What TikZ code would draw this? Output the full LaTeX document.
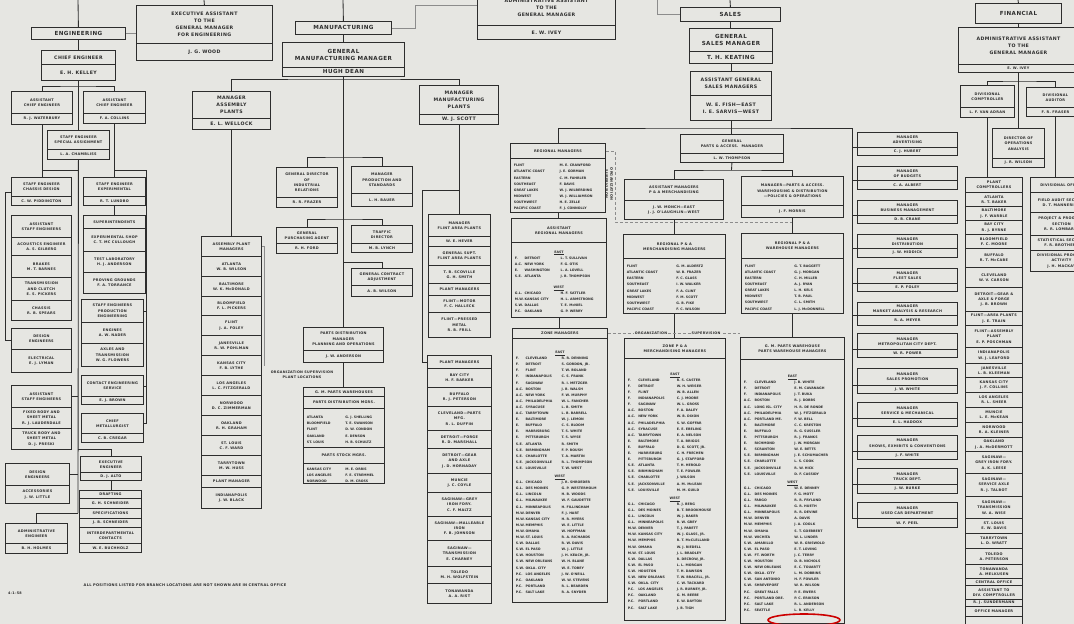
\documentclass[tikz,border=0pt]{standalone}
\usepackage{fontspec}
\newfontfamily\chart{DejaVu Sans}[LetterSpace=8]
\newfontfamily\chartl{DejaVu Sans}
\usetikzlibrary{calc}
\definecolor{paper}{RGB}{230,230,226}
\definecolor{ink}{RGB}{45,45,45}
\definecolor{faint}{RGB}{140,140,140}
\newcommand\fA{\fontsize{5.6}{7.8}\selectfont}
\newcommand\fB{\fontsize{4.7}{6.8}\selectfont}
\newcommand\fC{\fontsize{3.5}{5.3}\selectfont}
\newcommand\fD{\fontsize{3.25}{6.1}\selectfont}
\newcommand\rr[2]{\par\hbox to \hsize{\hbox to 0.52\hsize{#1\hfil}#2\hfil}}
\newcommand\rrr[3]{\par\hbox to \hsize{\hbox to 0.11\hsize{#1\hfil}\hbox to 0.41\hsize{#2\hfil}#3\hfil}}
\newcommand\hd[1]{\par\hbox to \hsize{\hfil\underline{#1}\hfil}}
\newcommand\bx[7][]{\node[cell,#1,minimum width=#5pt,minimum height=#6pt] (#2) at (#3,#4) {#7};}
\newcommand\lb[7]{\node[lst,minimum width=#4pt,minimum height=#5pt,text width=#6pt] (#1) at (#2,#3) {#7};}
\tikzset{
 cell/.style={draw=ink,line width=0.85pt,inner sep=0.4pt,align=center,anchor=north west,text=ink,font=\chart\bfseries\fC},
 lst/.style={draw=ink,line width=0.85pt,inner xsep=3pt,inner ysep=1pt,anchor=north west,text=ink,font=\chartl\bfseries\fD},
 fa/.style={font=\chart\bfseries\fA},
 fb/.style={font=\chart\bfseries\fB},
 conn/.style={draw=ink,line width=0.85pt},
 thinl/.style={draw=faint,line width=0.5pt},
 lab/.style={text=ink,font=\chart\bfseries\fontsize{3.4}{5}\selectfont,inner sep=0.5pt,align=center},
}
\begin{document}
\begin{tikzpicture}[x=1pt,y=-1pt]
\fill[paper] (0,0) rectangle (1074,624);
\useasboundingbox (0,0) rectangle (1074,624);
\clip (0,0) rectangle (1074,624);

% ================= ENGINEERING =================
\bx[fa]{eng}{31}{27}{94}{12}{ENGINEERING}
\bx[fb]{exA}{136}{5}{136}{38}{EXECUTIVE ASSISTANT\\TO THE\\GENERAL MANAGER\\FOR ENGINEERING}
\bx[fb]{exB}{136}{43}{136}{17}{J. G. WOOD}
\bx[fb]{ceA}{41}{50}{74}{14}{CHIEF ENGINEER}
\bx[fb]{ceB}{41}{64}{74}{16}{E. H. KELLEY}
\bx{acl1}{11}{91}{61}{22}{ASSISTANT\\CHIEF ENGINEER}
\bx{acl2}{11}{113}{61}{11}{R. J. WATERBURY}
\bx{acr1}{83}{91}{62}{22}{ASSISTANT\\CHIEF ENGINEER}
\bx{acr2}{83}{113}{62}{10}{F. A. COLLINS}
\bx{ssa1}{47}{130}{62}{19}{STAFF ENGINEER\\SPECIAL ASSIGNMENT}
\bx{ssa2}{47}{149}{62}{10}{L. A. CHAMBLISS}
% left column
\bx{cd1}{11}{177}{60}{19}{STAFF ENGINEER\\CHASSIS DESIGN}
\bx{cd2}{11}{196}{60}{9}{C. W. PIDDINGTON}
\bx{as1}{11}{215}{60}{22}{ASSISTANT\\STAFF ENGINEERS}
\bx{as2}{11}{237}{60}{18}{ACOUSTICS ENGINEER\\A. S. GILBERG}
\bx{as3}{11}{255}{60}{22}{BRAKES\\M. T. BARNES}
\bx{as4}{11}{277}{60}{23}{TRANSMISSION\\AND CLUTCH\\E. S. PICKERS}
\bx{as5}{11}{300}{60}{20}{CHASSIS\\R. B. SPEARS}
\bx{de1}{11}{328}{60}{21}{DESIGN\\ENGINEERS}
\bx{de2}{11}{349}{60}{23}{ELECTRICAL\\E. J. LYMAN}
\bx{ab1}{11}{385}{60}{22}{ASSISTANT\\STAFF ENGINEERS}
\bx{ab2}{11}{407}{60}{21}{FIXED BODY AND\\SHEET METAL\\R. J. LAUDERDALE}
\bx{ab3}{11}{428}{60}{21}{TRUCK BODY AND\\SHEET METAL\\D. J. PRESKI}
\bx{de3}{5}{463}{64}{22}{DESIGN\\ENGINEERS}
\bx{de4}{5}{485}{64}{18}{ACCESSORIES\\J. W. LITTLE}
\bx{adm1}{5}{523}{62}{20}{ADMINISTRATIVE\\ENGINEER}
\bx{adm2}{5}{543}{62}{10}{B. H. HOLMES}
% right column
\bx{ex1}{83}{177}{62}{19}{STAFF ENGINEER\\EXPERIMENTAL}
\bx{ex2}{83}{196}{62}{9}{R. T. LUNDBO}
\bx{su1}{83}{215}{62}{13}{SUPERINTENDENTS}
\bx{su2}{83}{228}{62}{23}{EXPERIMENTAL SHOP\\C. T. MC CULLOUGH}
\bx{su3}{83}{251}{62}{21}{TEST LABORATORY\\H. J. ANDERSON}
\bx{su4}{83}{272}{62}{21}{PROVING GROUNDS\\F. A. TORRANCE}
\bx{pe1}{81}{299}{62}{23}{STAFF ENGINEERS\\PRODUCTION\\ENGINEERING}
\bx{pe2}{81}{322}{62}{21}{ENGINES\\A. W. NADER}
\bx{pe3}{81}{343}{62}{23}{AXLES AND\\TRANSMISSION\\W. G. FLOWERS}
\bx{cs1}{81}{375}{62}{21}{CONTACT ENGINEERING\\SERVICE}
\bx{cs2}{81}{396}{62}{8}{E. J. BROWN}
\bx{cm1}{81}{413}{62}{20}{CHIEF\\METALLURGIST}
\bx{cm2}{81}{433}{62}{9}{C. B. CREGAR}
\bx{ee1}{80}{456}{61}{16}{EXECUTIVE\\ENGINEER}
\bx{ee2}{80}{472}{61}{8}{D. J. ALTO}
\bx{dr1}{79}{490}{62}{8}{DRAFTING}
\bx{dr2}{79}{498}{62}{10}{G. H. SCHNEIDER}
\bx{dr3}{79}{508}{62}{10}{SPECIFICATIONS}
\bx{dr4}{79}{518}{62}{9}{J. B. SCHNEIDER}
\bx{dr5}{79}{527}{62}{16}{INTERDEPARTMENTAL\\CONTACTS}
\bx{dr6}{79}{543}{62}{9}{W. E. BUCHHOLZ}
% engineering connectors
\coordinate (t1) at (78,0);
\coordinate (t2) at (204,0);
\coordinate (eb) at (78,86);
\coordinate (lf1) at (78,170);
\coordinate (lf2) at (78,513);
\coordinate (eec) at (78,449);
\coordinate (lb1) at (5,192);
\coordinate (lb2) at (5,340);
\coordinate (rf1) at (146,170);
\draw[conn] (t1) -- (eng.north);
\draw[conn] (eng.south) -- (ceA.north);
\draw[thinl] (eng.east) -- (eng.east -| exA.west);
\draw[conn] (t2) -- (exA.north);
\draw[conn] (ceB.south) -- (ceB.south |- ssa1.north);
\draw[conn] (acl1.north) |- (eb) -| (acr1.north);
\draw[conn] (ssa2.south) -- (lf2);
\draw[conn] (acl2.south) -- (acl2.south |- cd1.north);
\draw[conn] (lf1 -| acl2.south) -- (lf1);
\draw[conn] (lf2) -| (adm1.north);
\draw[conn] (de3.east) -- (de3.east -| lf2);
\draw[conn] (ab1.east) -- (ab1.east -| lf2);
\draw[conn] (eec) -| (ee1.north);
\draw[conn] (lb1 -| cd1.west) -- (lb1) -- (lb2) -- (lb2 -| de1.west);
\draw[conn] (acr2.south) -- (acr2.south |- ex1.north);
\draw[conn] (ex2.south) -- (ex2.south |- su1.north);
\draw[conn] (rf1 -| acr2.south) -- (rf1) -- (cm1.east -| rf1) -- (cm1.east);
\draw[conn] (pe1.east) -- (pe1.east -| rf1);
\draw[conn] (cs1.east) -- (cs1.east -| rf1);
\draw[conn] (ee2.south) -- (ee2.south |- dr1.north);

% ================= MANUFACTURING =================
\bx[fa]{mfg}{295}{21}{96}{13}{MANUFACTURING}
\bx[fa]{gmm1}{282}{42}{122}{25}{GENERAL\\MANUFACTURING MANAGER}
\bx[fa]{gmm2}{282}{67}{122}{9}{HUGH DEAN}
\bx[fb]{mab1}{192}{91}{78}{27}{MANAGER\\ASSEMBLY\\PLANTS}
\bx[fb]{mab2}{192}{118}{78}{11}{E. L. WELLOCK}
\bx[fb]{mmp1}{419}{85}{79}{29}{MANAGER\\MANUFACTURING\\PLANTS}
\bx[fb]{mmp2}{419}{114}{79}{10}{W. J. SCOTT}
\bx{ir1}{276}{167}{61}{30}{GENERAL DIRECTOR\\OF\\INDUSTRIAL\\RELATIONS}
\bx{ir2}{276}{197}{61}{10}{R. R. FRAZER}
\bx{ps1}{351}{166}{61}{27}{MANAGER\\PRODUCTION AND\\STANDARDS}
\bx{ps2}{351}{193}{61}{13}{L. H. BAUER}
\bx{pa1}{276}{227}{61}{16}{GENERAL\\PURCHASING AGENT}
\bx{pa2}{276}{243}{61}{10}{R. H. FORD}
\bx{td1}{351}{225}{61}{18}{TRAFFIC\\DIRECTOR}
\bx{td2}{351}{243}{61}{9}{M. B. LYNCH}
\bx{gc1}{351}{268}{61}{17}{GENERAL CONTRACT\\ADJUSTMENT}
\bx{gc2}{351}{285}{61}{11}{A. B. WILSON}
% assembly plant managers
\bx{apm1}{201}{236}{60}{20}{ASSEMBLY PLANT\\MANAGERS}
\bx{apm2}{201}{256}{60}{20}{ATLANTA\\W. B. WILSON}
\bx{apm3}{201}{276}{60}{20}{BALTIMORE\\W. K. McDONALD}
\bx{apm4}{201}{296}{60}{19}{BLOOMFIELD\\F. L. PICKERS}
\bx{apm5}{201}{315}{60}{20}{FLINT\\J. A. FOLEY}
\bx{apm6}{201}{335}{60}{20}{JANESVILLE\\R. W. POHLMAN}
\bx{apm7}{201}{355}{60}{20}{KANSAS CITY\\F. B. LYTHE}
\bx{apm8}{201}{375}{60}{20}{LOS ANGELES\\L. C. FITZGERALD}
\bx{apm9}{201}{395}{60}{20}{NORWOOD\\D. C. ZIMMERMAN}
\bx{apm10}{201}{415}{60}{20}{OAKLAND\\R. H. GRAHAM}
\bx{apm11}{201}{435}{60}{20}{ST. LOUIS\\C. F. WARD}
\bx{apm12}{201}{455}{60}{20}{TARRYTOWN\\M. W. HUSS}
\bx{apm13}{201}{475}{60}{12}{PLANT MANAGER}
\bx{apm14}{201}{487}{60}{21}{INDIANAPOLIS\\J. W. BLACK}
% parts distribution
\bx{pd1}{303}{327}{80}{23}{PARTS DISTRIBUTION\\MANAGER\\PLANNING AND OPERATIONS}
\bx{pd2}{303}{350}{80}{12}{J. W. ANDERSON}
\bx{pw1}{303}{387}{81}{9}{G. M. PARTS WAREHOUSES}
\bx{pw2}{303}{396}{81}{12}{PARTS DISTRIBUTION MGRS.}
\lb{pw3}{303}{408}{81}{39}{74}{\rr{ATLANTA}{G. J. SHELLING}\rr{BLOOMFIELD}{T. E. SWANSON}\rr{FLINT}{D. W. CONDON}\rr{OAKLAND}{E. DENSON}\rr{ST. LOUIS}{H. B. SCHULTZ}}
\bx{pw4}{303}{447}{81}{16}{PARTS STOCK MGRS.}
\lb{pw5}{303}{463}{81}{20}{74}{\rr{KANSAS CITY}{M. E. ORRIS}\rr{LOS ANGELES}{F. E. STREMMEL}\rr{NORWOOD}{D. M. CROSS}}
% manufacturing plants
\bx{mp1}{428}{214}{62}{22}{MANAGER\\FLINT AREA PLANTS}
\bx{mp2}{428}{236}{62}{10}{W. E. HEVER}
\bx{mp3}{428}{246}{62}{19}{GENERAL SUPT.\\FLINT AREA PLANTS}
\bx{mp4}{428}{265}{62}{18}{T. B. SCOVILLE\\G. H. SMITH}
\bx{mp5}{428}{283}{62}{12}{PLANT MANAGERS}
\bx{mp6}{428}{295}{62}{17}{FLINT—MOTOR\\F. C. HALLECK}
\bx{mp7}{428}{312}{62}{25}{FLINT—PRESSED\\METAL\\R. B. FRILL}
\bx{pl1}{427}{355}{64}{13}{PLANT MANAGERS}
\bx{pl2}{427}{368}{64}{19}{BAY CITY\\H. F. BARKER}
\bx{pl3}{427}{387}{64}{19}{BUFFALO\\R. J. PETERSON}
\bx{pl4}{427}{406}{64}{24}{CLEVELAND—PARTS\\MFG.\\R. L. DUFFIN}
\bx{pl5}{427}{430}{64}{18}{DETROIT—FORGE\\R. D. MARSHALL}
\bx{pl6}{427}{448}{64}{25}{DETROIT—GEAR\\AND AXLE\\J. D. HORNADAY}
\bx{pl7}{427}{473}{64}{19}{MUNCIE\\J. C. COYLE}
\bx{pl8}{427}{492}{64}{24}{SAGINAW—GREY\\IRON FDRY.\\C. F. MALTZ}
\bx{pl9}{427}{516}{64}{24}{SAGINAW—MALLEABLE\\IRON\\F. B. JOHNSON}
\bx{pl10}{427}{540}{64}{26}{SAGINAW—\\TRANSMISSION\\E. CHARNEY}
\bx{pl11}{427}{566}{64}{17}{TOLEDO\\M. H. WOLFSTEIN}
\bx{pl12}{427}{583}{64}{20}{TONAWANDA\\A. A. RIST}
% admin assistant (centre top)
\bx[fb]{adA}{477}{-10}{138}{35}{ADMINISTRATIVE ASSISTANT\\TO THE\\GENERAL MANAGER}
\bx[fb]{adB}{477}{25}{138}{14}{E. W. IVEY}
% manufacturing connectors
\coordinate (t3) at (343,0);
\coordinate (mb) at (343,79);
\coordinate (ib) at (343,157);
\coordinate (pb) at (343,219);
\coordinate (gb) at (343,262);
\coordinate (pm0) at (422,190);
\coordinate (m1) at (415,5);
\coordinate (os1) at (264,366);
\draw[conn] (t3) -- (mfg.north);
\draw[conn] (mfg.south) -- (gmm1.north);
\draw[conn] (gmm2.south) -- (pd1.north);
\draw[conn] (mab1.north) |- (mb) -| (mmp1.north);
\draw[conn] (ir1.north) |- (ib) -| (ps1.north);
\draw[conn] (pa1.north) |- (pb) -| (td1.north);
\draw[conn] (gb) -| (gc1.north);
\draw[conn] (mab2.south) -- (mab2.south |- apm1.north);
\draw[conn] (mmp2.south) -- (mmp2.south |- mp1.north);
\draw[conn] (pm0 -| mmp2.south) -- (pm0) |- (pl1.west);
\draw[conn] (pd2.south) -- (pd2.south |- pw1.north);
\draw[thinl] (mfg.east) -| (m1) -- (m1 -| adA.west);
\draw[thinl] (apm1.east) -| (os1);
\node[lab] (osp) at (302,375) {ORGANIZATION SUPERVISION\\PLANT LOCATIONS};
\node[lab,font=\chart\bfseries\fontsize{3.6}{5}\selectfont] (foot) at (185,585) {ALL POSITIONS LISTED FOR BRANCH LOCATIONS ARE NOT SHOWN ARE IN CENTRAL OFFICE};
\node[lab] (date) at (15,593) {4-1-58};

% ================= SALES =================
\bx[fa]{sal}{680}{7}{100}{14}{SALES}
\bx[fa]{gs1}{689}{28}{83}{23}{GENERAL\\SALES MANAGER}
\bx[fa]{gs2}{689}{51}{83}{12}{T. H. KEATING}
\bx[fb]{ag1}{690}{71}{81}{24}{ASSISTANT GENERAL\\SALES MANAGERS}
\bx[fb]{ag2}{690}{95}{81}{25}{W. E. FISH—EAST\\I. E. SARVIS—WEST}
\bx{rm1}{510}{143}{95}{15}{REGIONAL MANAGERS}
\lb{rm2}{510}{158}{95}{54}{88}{\rr{FLINT}{M. E. CRAWFORD}\rr{ATLANTIC COAST}{J. E. GORMAN}\rr{EASTERN}{C. M. FAHRLER}\rr{SOUTHEAST}{F. DAVIS}\rr{GREAT LAKES}{W. J. WILBERDING}\rr{MIDWEST}{W. J. WILLIAMSON}\rr{SOUTHWEST}{H. E. ZELLE}\rr{PACIFIC COAST}{F. J. CONNOLLY}}
\bx{ar1}{511}{218}{95}{24}{ASSISTANT\\REGIONAL MANAGERS}
\lb{ar2}{511}{242}{95}{75}{88}{\hd{EAST}\rrr{F.}{DETROIT}{L. T. SULLIVAN}\rrr{A.C.}{NEW YORK}{F. G. OTIS}\rrr{E.}{WASHINGTON}{L. A. LOVELL}\rrr{S.E.}{ATLANTA}{J. B. THOMPSON}\vskip5pt\hd{WEST}\rrr{G.L.}{CHICAGO}{H. F. SATTLER}\rrr{M.W.}{KANSAS CITY}{H. L. ARMSTRONG}\rrr{S.W.}{DALLAS}{T. E. McNIEL}\rrr{P.C.}{OAKLAND}{G. P. WERRY}}
\bx{zm1}{512}{328}{95}{10}{ZONE MANAGERS}
\lb{zm2}{512}{338}{95}{264}{88}{\hd{EAST}\rrr{F.}{CLEVELAND}{R. R. DENNING}\rrr{F.}{DETROIT}{S. GORDON, JR.}\rrr{F.}{FLINT}{T. W. BOLAND}\rrr{F.}{INDIANAPOLIS}{C. S. FRANK}\rrr{F.}{SAGINAW}{R. I. METZGER}\rrr{A.C.}{BOSTON}{J. B. WALSH}\rrr{A.C.}{NEW YORK}{F. W. MURPHY}\rrr{A.C.}{PHILADELPHIA}{W. L. FANCHER}\rrr{A.C.}{SYRACUSE}{L. B. SMITH}\rrr{A.C.}{TARRYTOWN}{L. B. BARRELL}\rrr{E.}{BALTIMORE}{W. J. LEMON}\rrr{E.}{BUFFALO}{C. S. BLOOM}\rrr{E.}{HARRISBURG}{T. S. WHITE}\rrr{E.}{PITTSBURGH}{T. S. WYSE}\rrr{S.E.}{ATLANTA}{R. SMITH}\rrr{S.E.}{BIRMINGHAM}{F. P. ROUSH}\rrr{S.E.}{CHARLOTTE}{T. A. MARTIN}\rrr{S.E.}{JACKSONVILLE}{R. L. THOMPSON}\rrr{S.E.}{LOUISVILLE}{T. W. WEST}\vskip2pt\hd{WEST}\rrr{G.L.}{CHICAGO}{J. R. SHROEDER}\rrr{G.L.}{DES MOINES}{G. P. WESTERHOLM}\rrr{G.L.}{LINCOLN}{H. B. WOODS}\rrr{G.L.}{MILWAUKEE}{W. F. GAUDETTE}\rrr{G.L.}{MINNEAPOLIS}{H. FILLINGHAM}\rrr{M.W.}{DENVER}{F. J. HART}\rrr{M.W.}{KANSAS CITY}{H. R. MYERS}\rrr{M.W.}{MEMPHIS}{W. E. LITTLE}\rrr{M.W.}{OMAHA}{W. HOFFMAN}\rrr{M.W.}{ST. LOUIS}{R. A. RICHARDS}\rrr{S.W.}{DALLAS}{R. W. DAVIS}\rrr{S.W.}{EL PASO}{W. J. LITTLE}\rrr{S.W.}{HOUSTON}{J. H. KEACH, JR.}\rrr{S.W.}{NEW ORLEANS}{W. H. BLANE}\rrr{S.W.}{OKLA. CITY}{W. E. TOBEY}\rrr{P.C.}{LOS ANGELES}{J. W. O'NEILL}\rrr{P.C.}{OAKLAND}{W. W. STEVENS}\rrr{P.C.}{PORTLAND}{R. L. BEARDEN}\rrr{P.C.}{SALT LAKE}{R. A. SNYDER}}
% parts & accessories
\bx{gpa1}{680}{134}{103}{19}{GENERAL\\PARTS \& ACCESS.\ \ MANAGER}
\bx{gpa2}{680}{153}{103}{9}{L. W. THOMPSON}
\bx{am1}{624}{179}{99}{21}{ASSISTANT MANAGERS\\P \& A MERCHANDISING}
\bx{am2}{624}{200}{99}{19}{J. W. MONCH—EAST\\J. J. O'LAUGHLIN—WEST}
\bx{wm1}{741}{176}{102}{29}{MANAGER—PARTS \& ACCESS.\\WAREHOUSING \& DISTRIBUTION\\—POLICIES \& OPERATIONS}
\bx{wm2}{741}{205}{102}{12}{J. F. MORRIS}
\bx{rpm1}{623}{234}{102}{24}{REGIONAL P \& A\\MERCHANDISING MANAGERS}
\lb{rpm2}{623}{258}{102}{55}{95}{\rr{FLINT}{G. M. ALDERTZ}\rr{ATLANTIC COAST}{W. B. FRAZER}\rr{EASTERN}{F. C. GLASS}\rr{SOUTHEAST}{I. W. WALKER}\rr{GREAT LAKES}{F. A. CLINT}\rr{MIDWEST}{F. M. SCOTT}\rr{SOUTHWEST}{G. B. FIKE}\rr{PACIFIC COAST}{F. C. WILSON}}
\bx{rpw1}{741}{233}{102}{25}{REGIONAL P \& A\\WAREHOUSE MANAGERS}
\lb{rpw2}{741}{258}{102}{55}{95}{\rr{FLINT}{G. T. BAGGETT}\rr{ATLANTIC COAST}{G. J. MORGAN}\rr{EASTERN}{C. H. MILLER}\rr{SOUTHEAST}{A. J. RYAN}\rr{GREAT LAKES}{L. H. KELS}\rr{MIDWEST}{T. B. PAUL}\rr{SOUTHWEST}{C. L. SMITH}\rr{PACIFIC COAST}{L. J. McDONNELL}}
\bx{zpm1}{624}{338}{101}{20}{ZONE P \& A\\MERCHANDISING MANAGERS}
\lb{zpm2}{624}{358}{101}{262}{94}{\hd{EAST}\rrr{F.}{CLEVELAND}{R. S. CASTER}\rrr{F.}{DETROIT}{W. H. WEISER}\rrr{F.}{FLINT}{W. B. ALLEN}\rrr{F.}{INDIANAPOLIS}{C. J. MOORE}\rrr{F.}{SAGINAW}{W. L. GROSS}\rrr{A.C.}{BOSTON}{F. A. DALEY}\rrr{A.C.}{NEW YORK}{W. B. DIXON}\rrr{A.C.}{PHILADELPHIA}{S. W. GOFFAR}\rrr{A.C.}{SYRACUSE}{E. E. EBELING}\rrr{A.C.}{TARRYTOWN}{E. A. NELSON}\rrr{E.}{BALTIMORE}{T. A. BRIGGS}\rrr{E.}{BUFFALO}{D. G. SCOTT, JR.}\rrr{E.}{HARRISBURG}{C. H. FRECHEN}\rrr{E.}{PITTSBURGH}{G. J. STAFFORD}\rrr{S.E.}{ATLANTA}{T. H. HEROLD}\rrr{S.E.}{BIRMINGHAM}{T. E. FOWLER}\rrr{S.E.}{CHARLOTTE}{J. WILSON}\rrr{S.E.}{JACKSONVILLE}{A. M. McLEAN}\rrr{S.E.}{LOUISVILLE}{M. M. GUILD}\vskip2pt\hd{WEST}\rrr{G.L.}{CHICAGO}{R. J. BERG}\rrr{G.L.}{DES MOINES}{B. T. BROOKHOUSE}\rrr{G.L.}{LINCOLN}{W. J. BAKER}\rrr{G.L.}{MINNEAPOLIS}{R. W. GREY}\rrr{M.W.}{DENVER}{T. J. PARETT}\rrr{M.W.}{KANSAS CITY}{W. J. GLASS, JR.}\rrr{M.W.}{MEMPHIS}{R. T. McCLELLAND}\rrr{M.W.}{OMAHA}{W. J. RIEDELL}\rrr{M.W.}{ST. LOUIS}{J. L. BRADLEY}\rrr{S.W.}{DALLAS}{R. DECROW, JR.}\rrr{S.W.}{EL PASO}{L. L. MORGAN}\rrr{S.W.}{HOUSTON}{T. H. DAWSON}\rrr{S.W.}{NEW ORLEANS}{T. W. BRACELL, JR.}\rrr{S.W.}{OKLA. CITY}{C. W. TACKARD}\rrr{P.C.}{LOS ANGELES}{J. R. BURNEY, JR.}\rrr{P.C.}{OAKLAND}{G. M. BEEBE}\rrr{P.C.}{PORTLAND}{E. W. DAYTON}\rrr{P.C.}{SALT LAKE}{J. B. TIGH}}
\bx{gpw1}{740}{337}{104}{22}{G. M. PARTS WAREHOUSE\\PARTS WAREHOUSE MANAGERS}
\lb{gpw2}{740}{359}{104}{264}{97}{\hd{EAST}\rrr{F.}{CLEVELAND}{J. B. WHITE}\rrr{F.}{DETROIT}{E. M. CAVANAGH}\rrr{F.}{INDIANAPOLIS}{J. T. BUKA}\rrr{A.C.}{BOSTON}{R. J. DOBBS}\rrr{A.C.}{LONG ISL. CITY}{H. R. DE RONDE}\rrr{A.C.}{PHILADELPHIA}{W. J. FITZGERALD}\rrr{A.C.}{PORTLAND ME.}{F. W. BELL}\rrr{E.}{BALTIMORE}{C. C. KRESTON}\rrr{E.}{BUFFALO}{R. G. SUSSLER}\rrr{E.}{PITTSBURGH}{R. J. FRANKS}\rrr{E.}{RICHMOND}{J. W. MORGAN}\rrr{E.}{SCRANTON}{W. E. BETTS}\rrr{S.E.}{BIRMINGHAM}{J. E. SCHUMACHER}\rrr{S.E.}{CHARLOTTE}{L. S. COOK}\rrr{S.E.}{JACKSONVILLE}{R. W. HICK}\rrr{S.E.}{LOUISVILLE}{D. F. CASSIDY}\vskip2pt\hd{WEST}\rrr{G.L.}{CHICAGO}{W. E. DENNEY}\rrr{G.L.}{DES MOINES}{F. G. MOTT}\rrr{G.L.}{FARGO}{R. R. FRYLUND}\rrr{G.L.}{MILWAUKEE}{G. R. HUETH}\rrr{G.L.}{MINNEAPOLIS}{R. R. DEVINE}\rrr{M.W.}{DENVER}{A. DAVIS}\rrr{M.W.}{MEMPHIS}{J. A. COOLK}\rrr{M.W.}{OMAHA}{S. T. GOEBBERT}\rrr{M.W.}{WICHITA}{W. L. LINDER}\rrr{S.W.}{AMARILLO}{W. R. GRISWOLD}\rrr{S.W.}{EL PASO}{E. T. LOVING}\rrr{S.W.}{FT. WORTH}{J. C. TERRY}\rrr{S.W.}{HOUSTON}{D. B. NICHOLS}\rrr{S.W.}{NEW ORLEANS}{E. C. TOUARTT}\rrr{S.W.}{OKLA. CITY}{L. M. DOBBINS}\rrr{S.W.}{SAN ANTONIO}{H. F. FOWLER}\rrr{S.W.}{SHREVEPORT}{W. R. WILSON}\rrr{P.C.}{GREAT FALLS}{P. E. EWERS}\rrr{P.C.}{PORTLAND ORE.}{P. C. ERIKSON}\rrr{P.C.}{SALT LAKE}{R. L. ANDERSON}\rrr{P.C.}{SEATTLE}{L. R. KELLY}}
% sales staff column
\bx{st1a}{857}{132}{100}{15}{MANAGER\\ADVERTISING}
\bx{st1b}{857}{147}{100}{8}{C. J. HUBERT}
\bx{st2a}{857}{166}{100}{14}{MANAGER\\OF BUDGETS}
\bx{st2b}{857}{180}{100}{9}{C. A. ALBERT}
\bx{st3a}{857}{200}{100}{15}{MANAGER\\BUSINESS MANAGEMENT}
\bx{st3b}{857}{215}{100}{8}{D. B. CRANE}
\bx{st4a}{857}{234}{100}{14}{MANAGER\\DISTRIBUTION}
\bx{st4b}{857}{248}{100}{9}{J. W. HIDDICK}
\bx{st5a}{857}{268}{100}{15}{MANAGER\\FLEET SALES}
\bx{st5b}{857}{283}{100}{8}{E. P. FOLEY}
\bx{st6a}{857}{302}{100}{13}{MANAGER\\MARKET ANALYSIS \& RESEARCH}
\bx{st6b}{857}{315}{100}{10}{R. A. MEYER}
\bx{st7a}{857}{333}{100}{16}{MANAGER\\METROPOLITAN CITY DEPT.}
\bx{st7b}{857}{349}{100}{8}{W. R. POWER}
\bx{st8a}{857}{368}{100}{17}{MANAGER\\SALES PROMOTION}
\bx{st8b}{857}{385}{100}{8}{J. W. WHITE}
\bx{st9a}{857}{402}{100}{16}{MANAGER\\SERVICE \& MECHANICAL}
\bx{st9b}{857}{418}{100}{8}{E. L. HADDOX}
\bx{st10a}{857}{435}{100}{16}{MANAGER\\SHOWS, EXHIBITS \& CONVENTIONS}
\bx{st10b}{857}{451}{100}{8}{J. F. WHITE}
\bx{st11a}{857}{468}{100}{16}{MANAGER\\TRUCK DEPT.}
\bx{st11b}{857}{484}{100}{9}{J. W. BURKE}
\bx{st12a}{857}{502}{100}{16}{MANAGER\\USED CAR DEPARTMENT}
\bx{st12b}{857}{518}{100}{9}{W. F. PEEL}
% sales connectors
\coordinate (t5) at (730,0);
\coordinate (s0) at (657,0);
\coordinate (sb) at (730.5,128);
\coordinate (sbr) at (852,128);
\coordinate (pb2) at (731.5,170);
\coordinate (d1) at (615,222);
\draw[conn] (t5) -- (sal.north);
\draw[thinl] (s0) |- (sal.west);
\draw[conn] (sal.south) -- (sal.south |- gs1.north);
\draw[conn] (gs2.south) -- (gs2.south |- ag1.north);
\draw[conn] (ag2.south) -- (ag2.south |- gpa1.north);
\draw[conn] (rm1.north) |- (sb) -- (sbr) -- (st12a.south west -| sbr);
\foreach \n in {1,...,12} {\draw[conn] (st\n a.south west) -- (st\n a.south west -| sbr);}
\draw[conn] (rm2.south) -- (rm2.south |- ar1.north);
\draw[conn] (ar2.south) -- (ar2.south |- zm1.north);
\draw[conn] (gpa2.south) -- (pb2);
\draw[conn] (am1.north) |- (pb2) -| (wm1.north);
\draw[conn] (am2.south) -- (am2.south |- rpm1.north);
\draw[conn] (wm2.south) -- (wm2.south |- rpw1.north);
\draw[conn] (rpm2.south) -- (rpm2.south |- zpm1.north);
\draw[conn] (rpw2.south) -- (rpw2.south |- gpw1.north);
\draw[thinl,densely dashed] (rm1.east) -| (d1) -- (d1 -| wm2.south);
\node[lab,rotate=-90] (orgr) at (609,184) {ORGANIZATION\\SUPERVISION};
\draw[thinl,densely dashed] (zm1.east) -- (zm1.east -| gpw1.west);
\node[lab,fill=paper] (orgm) at (651,333) {ORGANIZATION};
\node[lab,fill=paper] (supm) at (706,333) {SUPERVISION};
\draw[red!80!black,line width=1.6pt] (804,620) ellipse [x radius=36pt,y radius=6pt];

% ================= FINANCIAL =================
\bx[fa]{fin}{975}{3}{86}{20}{FINANCIAL}
\bx[fb]{fa1}{958}{27}{120}{37}{ADMINISTRATIVE ASSISTANT\\TO THE\\GENERAL MANAGER}
\bx{fa2}{958}{64}{120}{8}{E. W. IVEY}
\bx{dc1}{960}{85}{54}{22}{DIVISIONAL\\COMPTROLLER}
\bx{dc2}{960}{107}{54}{10}{L. F. VAN ADRAN}
\bx{da1}{1026}{87}{58}{20}{DIVISIONAL\\AUDITOR}
\bx{da2}{1026}{107}{58}{9}{F. R. FRASER}
\bx{oa1}{992}{128}{52}{30}{DIRECTOR OF\\OPERATIONS\\ANALYSIS}
\bx{oa2}{992}{158}{52}{9}{J. R. WILSON}
\bx{pc1}{965}{177}{57}{15}{PLANT\\COMPTROLLERS}
\bx{pc2}{965}{192}{57}{14}{ATLANTA\\R. T. BAKER}
\bx{pc3}{965}{206}{57}{14}{BALTIMORE\\J. F. WARBLE}
\bx{pc4}{965}{220}{57}{14}{BAY CITY\\R. J. BYRNE}
\bx{pc5}{965}{234}{57}{14}{BLOOMFIELD\\F. C. MOORE}
\bx{pc6}{965}{248}{57}{19}{BUFFALO\\R. T. McCABE}
\bx{pc7}{965}{267}{57}{20}{CLEVELAND\\W. V. CARSON}
\bx{pc8}{965}{287}{57}{24}{DETROIT—GEAR \&\\AXLE \& FORGE\\J. B. BROWN}
\bx{pc9}{965}{311}{57}{14}{FLINT—AREA PLANTS\\J. E. TRAIN}
\bx{pc10}{965}{325}{57}{22}{FLINT—ASSEMBLY\\PLANT\\E. P. POSCHMAN}
\bx{pc11}{965}{347}{57}{16}{INDIANAPOLIS\\W. J. LEAFORD}
\bx{pc12}{965}{363}{57}{14}{JANESVILLE\\L. B. KLEEMAN}
\bx{pc13}{965}{377}{57}{15}{KANSAS CITY\\J. F. COLLINS}
\bx{pc14}{965}{392}{57}{15}{LOS ANGELES\\R. L. SHEER}
\bx{pc15}{965}{407}{57}{15}{MUNCIE\\L. E. McKEAN}
\bx{pc16}{965}{422}{57}{15}{NORWOOD\\R. A. KLEINER}
\bx{pc17}{965}{437}{57}{14}{OAKLAND\\J. A. McDERMOTT}
\bx{pc18}{965}{451}{57}{22}{SAGINAW—\\GREY IRON FDRY.\\A. K. LEESE}
\bx{pc19}{965}{473}{57}{23}{SAGINAW—\\SERVICE AXLE\\R. J. TALBOT}
\bx{pc20}{965}{496}{57}{22}{SAGINAW—\\TRANSMISSION\\W. A. WISE}
\bx{pc21}{965}{518}{57}{15}{ST. LOUIS\\E. W. DAVIS}
\bx{pc22}{965}{533}{57}{15}{TARRYTOWN\\L. D. WRATT}
\bx{pc23}{965}{548}{57}{16}{TOLEDO\\A. PETERSON}
\bx{pc24}{965}{564}{57}{14}{TONAWANDA\\A. MELKUSEN}
\bx{pc25}{965}{578}{57}{7}{CENTRAL OFFICE}
\bx{pc26}{965}{585}{57}{14}{ASSISTANT TO\\DIV. COMPTROLLER}
\bx{pc27}{965}{599}{57}{7}{R. J. SUNDERMANN}
\bx{pc28}{965}{606}{57}{10}{OFFICE MANAGER}
\bx{pc29}{965}{616}{57}{12}{}
\bx{dv1}{1030}{177}{62}{15}{DIVISIONAL OFFICE}
\bx{dv2}{1030}{192}{62}{20}{FIELD AUDIT SECTION\\D. T. MANNERING}
\bx{dv3}{1030}{212}{62}{23}{PROJECT \& PROGRAM\\SECTION\\R. R. LOMBARDI}
\bx{dv4}{1030}{235}{62}{15}{STATISTICAL SECTION\\F. R. BROTHERS}
\bx{dv5}{1030}{250}{62}{21}{DIVISIONAL PROGRAM\\ACTIVITY\\J. H. MACKAY}
% financial connectors
\coordinate (t6) at (1018,0);
\coordinate (fbus) at (1018,81);
\draw[conn] (t6) -- (fin.north);
\draw[conn] (fin.south) -- (fin.south |- fa1.north);
\draw[conn] (fa2.south) -- (fa2.south |- oa1.north);
\draw[conn] (dc1.north) |- (fbus) -| (da1.north);
\draw[conn] (dc2.south) -- (dc2.south |- pc1.north);
\draw[conn] (da2.south) -- (da2.south |- dv1.north);
\end{tikzpicture}
\end{document}
